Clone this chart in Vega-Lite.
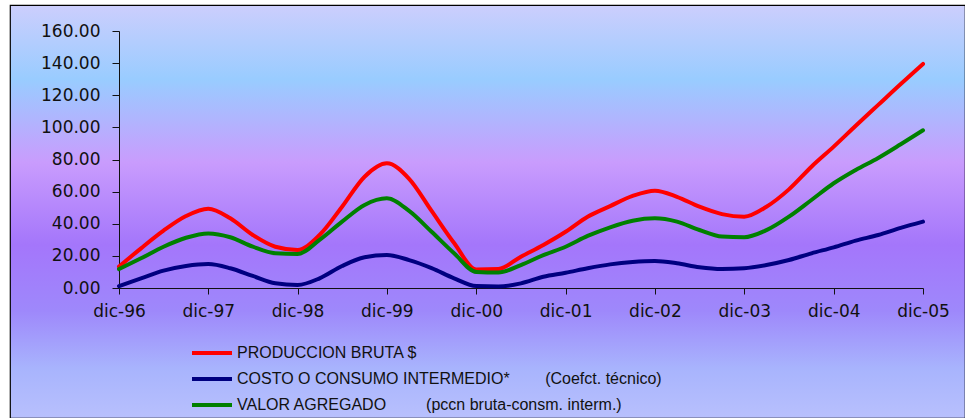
{
  "$schema": "https://vega.github.io/schema/vega-lite/v6.json",
  "width": 955,
  "height": 413,
  "autosize": {"type": "none"},
  "padding": {"left": 10, "top": 5, "right": 0, "bottom": 0},
  "background": "white",
  "config": {
    "view": {
      "stroke": "black",
      "strokeWidth": 1.2,
      "fill": {
        "gradient": "linear",
        "x1": 0, "y1": 0, "x2": 0, "y2": 1,
        "stops": [
          {"offset": 0, "color": "#cccefd"},
          {"offset": 0.18, "color": "#99ccff"},
          {"offset": 0.38, "color": "#c99cfd"},
          {"offset": 0.58, "color": "#a476fb"},
          {"offset": 0.74, "color": "#9e88fb"},
          {"offset": 0.88, "color": "#a8b4fd"},
          {"offset": 1, "color": "#b8c0fd"}
        ]
      }
    },
    "axis": {
      "labelFont": "DejaVu Sans",
      "labelFontSize": 17,
      "labelColor": "#111111",
      "domainColor": "#111111",
      "tickColor": "#111111",
      "grid": false,
      "title": null
    }
  },
  "data": {
    "values": [
      {"fecha": "1996-12-01", "PRODUCCION BRUTA $": 13.3, "COSTO O CONSUMO INTERMEDIO*": 1.2, "VALOR AGREGADO": 11.8},
      {"fecha": "1997-03-01", "PRODUCCION BRUTA $": 24.7, "COSTO O CONSUMO INTERMEDIO*": 6, "VALOR AGREGADO": 18.5},
      {"fecha": "1997-06-01", "PRODUCCION BRUTA $": 35.7, "COSTO O CONSUMO INTERMEDIO*": 10.8, "VALOR AGREGADO": 25.7},
      {"fecha": "1997-09-01", "PRODUCCION BRUTA $": 44.8, "COSTO O CONSUMO INTERMEDIO*": 13.7, "VALOR AGREGADO": 31.3},
      {"fecha": "1997-12-01", "PRODUCCION BRUTA $": 49.4, "COSTO O CONSUMO INTERMEDIO*": 14.9, "VALOR AGREGADO": 34},
      {"fecha": "1998-03-01", "PRODUCCION BRUTA $": 43.4, "COSTO O CONSUMO INTERMEDIO*": 12.3, "VALOR AGREGADO": 31.6},
      {"fecha": "1998-06-01", "PRODUCCION BRUTA $": 33, "COSTO O CONSUMO INTERMEDIO*": 7.5, "VALOR AGREGADO": 25.7},
      {"fecha": "1998-09-01", "PRODUCCION BRUTA $": 25.7, "COSTO O CONSUMO INTERMEDIO*": 2.9, "VALOR AGREGADO": 21.6},
      {"fecha": "1998-12-01", "PRODUCCION BRUTA $": 23.7, "COSTO O CONSUMO INTERMEDIO*": 1.9, "VALOR AGREGADO": 21.2},
      {"fecha": "1999-03-01", "PRODUCCION BRUTA $": 33, "COSTO O CONSUMO INTERMEDIO*": 6, "VALOR AGREGADO": 29.9},
      {"fecha": "1999-06-01", "PRODUCCION BRUTA $": 50.6, "COSTO O CONSUMO INTERMEDIO*": 13.7, "VALOR AGREGADO": 41.3},
      {"fecha": "1999-09-01", "PRODUCCION BRUTA $": 69.3, "COSTO O CONSUMO INTERMEDIO*": 19.1, "VALOR AGREGADO": 51.7},
      {"fecha": "1999-12-01", "PRODUCCION BRUTA $": 77.6, "COSTO O CONSUMO INTERMEDIO*": 20.5, "VALOR AGREGADO": 55.8},
      {"fecha": "2000-03-01", "PRODUCCION BRUTA $": 68, "COSTO O CONSUMO INTERMEDIO*": 17.4, "VALOR AGREGADO": 48},
      {"fecha": "2000-06-01", "PRODUCCION BRUTA $": 48, "COSTO O CONSUMO INTERMEDIO*": 12.4, "VALOR AGREGADO": 35},
      {"fecha": "2000-09-01", "PRODUCCION BRUTA $": 28, "COSTO O CONSUMO INTERMEDIO*": 6, "VALOR AGREGADO": 21.6},
      {"fecha": "2000-12-01", "PRODUCCION BRUTA $": 11.5, "COSTO O CONSUMO INTERMEDIO*": 1.2, "VALOR AGREGADO": 10},
      {"fecha": "2001-03-01", "PRODUCCION BRUTA $": 11.8, "COSTO O CONSUMO INTERMEDIO*": 0.9, "VALOR AGREGADO": 9.6},
      {"fecha": "2001-06-01", "PRODUCCION BRUTA $": 19.5, "COSTO O CONSUMO INTERMEDIO*": 2.9, "VALOR AGREGADO": 14.3},
      {"fecha": "2001-09-01", "PRODUCCION BRUTA $": 26.8, "COSTO O CONSUMO INTERMEDIO*": 7, "VALOR AGREGADO": 20.5},
      {"fecha": "2001-12-01", "PRODUCCION BRUTA $": 35, "COSTO O CONSUMO INTERMEDIO*": 9.5, "VALOR AGREGADO": 25.7},
      {"fecha": "2002-03-01", "PRODUCCION BRUTA $": 44.4, "COSTO O CONSUMO INTERMEDIO*": 12.3, "VALOR AGREGADO": 32.4},
      {"fecha": "2002-06-01", "PRODUCCION BRUTA $": 51, "COSTO O CONSUMO INTERMEDIO*": 14.7, "VALOR AGREGADO": 37.8},
      {"fecha": "2002-09-01", "PRODUCCION BRUTA $": 57.3, "COSTO O CONSUMO INTERMEDIO*": 16.2, "VALOR AGREGADO": 41.9},
      {"fecha": "2002-12-01", "PRODUCCION BRUTA $": 60.6, "COSTO O CONSUMO INTERMEDIO*": 16.8, "VALOR AGREGADO": 43.4},
      {"fecha": "2003-03-01", "PRODUCCION BRUTA $": 56.8, "COSTO O CONSUMO INTERMEDIO*": 15.4, "VALOR AGREGADO": 41.3},
      {"fecha": "2003-06-01", "PRODUCCION BRUTA $": 50.6, "COSTO O CONSUMO INTERMEDIO*": 12.9, "VALOR AGREGADO": 36.1},
      {"fecha": "2003-09-01", "PRODUCCION BRUTA $": 46, "COSTO O CONSUMO INTERMEDIO*": 11.8, "VALOR AGREGADO": 32},
      {"fecha": "2003-12-01", "PRODUCCION BRUTA $": 44.4, "COSTO O CONSUMO INTERMEDIO*": 12.3, "VALOR AGREGADO": 31.6},
      {"fecha": "2004-03-01", "PRODUCCION BRUTA $": 50.6, "COSTO O CONSUMO INTERMEDIO*": 14.3, "VALOR AGREGADO": 36},
      {"fecha": "2004-06-01", "PRODUCCION BRUTA $": 61.4, "COSTO O CONSUMO INTERMEDIO*": 17.4, "VALOR AGREGADO": 44.4},
      {"fecha": "2004-09-01", "PRODUCCION BRUTA $": 75.5, "COSTO O CONSUMO INTERMEDIO*": 21.6, "VALOR AGREGADO": 54.8},
      {"fecha": "2004-12-01", "PRODUCCION BRUTA $": 88, "COSTO O CONSUMO INTERMEDIO*": 25.3, "VALOR AGREGADO": 65.2},
      {"fecha": "2005-03-01", "PRODUCCION BRUTA $": 101, "COSTO O CONSUMO INTERMEDIO*": 29.5, "VALOR AGREGADO": 73.5},
      {"fecha": "2005-06-01", "PRODUCCION BRUTA $": 114, "COSTO O CONSUMO INTERMEDIO*": 33, "VALOR AGREGADO": 81},
      {"fecha": "2005-09-01", "PRODUCCION BRUTA $": 127, "COSTO O CONSUMO INTERMEDIO*": 37.4, "VALOR AGREGADO": 89.5},
      {"fecha": "2005-12-01", "PRODUCCION BRUTA $": 139.5, "COSTO O CONSUMO INTERMEDIO*": 41.3, "VALOR AGREGADO": 98.2}
    ]
  },
  "transform": [
    {"fold": ["PRODUCCION BRUTA $", "COSTO O CONSUMO INTERMEDIO*", "VALOR AGREGADO"], "as": ["serie", "valor"]}
  ],
  "mark": {"type": "line", "interpolate": "monotone", "strokeWidth": 4, "strokeCap": "round"},
  "encoding": {
    "x": {
      "field": "fecha",
      "type": "temporal",
      "scale": {
        "type": "utc",
        "domain": [{"year": 1996, "month": 12, "date": 1, "utc": true}, {"year": 2005, "month": 12, "date": 1, "utc": true}],
        "range": [109, 913]
      },
      "axis": {
        "orient": "bottom",
        "offset": -130,
        "values": [
          {"year": 1996, "month": 12, "date": 1, "utc": true},
          {"year": 1997, "month": 12, "date": 1, "utc": true},
          {"year": 1998, "month": 12, "date": 1, "utc": true},
          {"year": 1999, "month": 12, "date": 1, "utc": true},
          {"year": 2000, "month": 12, "date": 1, "utc": true},
          {"year": 2001, "month": 12, "date": 1, "utc": true},
          {"year": 2002, "month": 12, "date": 1, "utc": true},
          {"year": 2003, "month": 12, "date": 1, "utc": true},
          {"year": 2004, "month": 12, "date": 1, "utc": true},
          {"year": 2005, "month": 12, "date": 1, "utc": true}
        ],
        "labelExpr": "'dic-' + utcFormat(datum.value, '%y')",
        "tickSize": 6,
        "labelPadding": 9,
        "labelFlush": false,
        "labelOverlap": false
      }
    },
    "y": {
      "field": "valor",
      "type": "quantitative",
      "scale": {"domain": [0, 160], "range": [283, 26], "nice": false, "zero": false},
      "axis": {
        "orient": "left",
        "offset": -109,
        "values": [0, 20, 40, 60, 80, 100, 120, 140, 160],
        "format": ".2f",
        "tickSize": 7,
        "labelPadding": 12,
        "labelFlush": false,
        "labelOverlap": false
      }
    },
    "color": {
      "field": "serie",
      "type": "nominal",
      "scale": {
        "domain": ["PRODUCCION BRUTA $", "COSTO O CONSUMO INTERMEDIO*", "VALOR AGREGADO"],
        "range": ["#ff0000", "#000080", "#008000"]
      },
      "legend": {
        "orient": "none",
        "legendX": 180,
        "legendY": 338,
        "title": null,
        "padding": 0,
        "symbolType": "stroke",
        "symbolSize": 1600,
        "symbolStrokeWidth": 4,
        "clipHeight": 20,
        "rowPadding": 6,
        "labelOffset": 3,
        "labelFont": "Liberation Sans",
        "labelFontSize": 16,
        "labelColor": "#111111",
        "labelLimit": 0,
        "labelExpr": "datum.label == 'COSTO O CONSUMO INTERMEDIO*' ? datum.label + '\u00a0\u00a0\u00a0\u00a0\u00a0\u00a0\u00a0\u00a0(Coefct. técnico)' : datum.label == 'VALOR AGREGADO' ? datum.label + '\u00a0\u00a0\u00a0\u00a0\u00a0\u00a0\u00a0\u00a0\u00a0(pccn bruta-consm. interm.)' : datum.label"
      }
    }
  }
}
